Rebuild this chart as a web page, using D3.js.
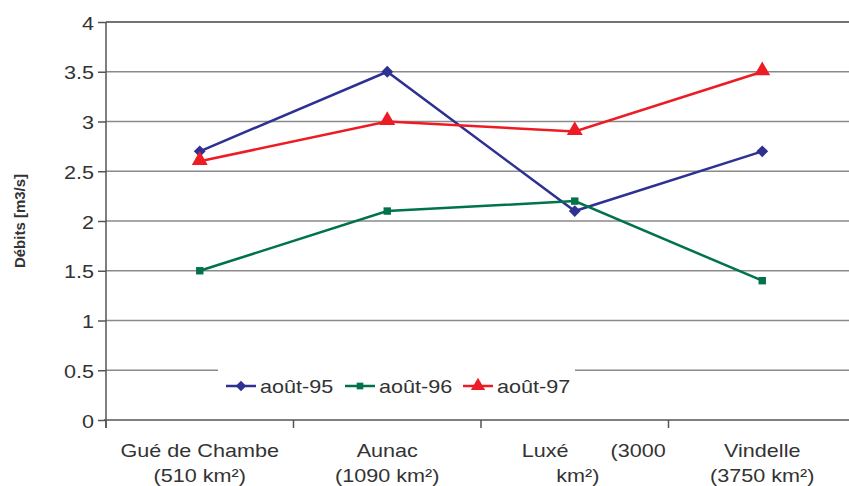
<!DOCTYPE html>
<html><head><meta charset="utf-8">
<script src="https://cdn.jsdelivr.net/npm/d3@7"></script>
<style>body{margin:0;background:#fff}text{font-family:"Liberation Sans",Arial,sans-serif;fill:#333}</style>
</head><body><svg id="c" width="849" height="486"></svg>
<script>
const categories = ["Gué de Chambe", "Aunac", "Luxé", "Vindelle"];
const categoryLines = [["Gué de Chambe", "(510 km²)"], ["Aunac", "(1090 km²)"], ["Luxé\u00a0\u00a0\u00a0\u00a0\u00a0\u00a0\u00a0(3000", "\u00a0km²)"], ["Vindelle", "(3750 km²)"]];
const seriesNames = ["août-95", "août-96", "août-97"];
const aout95 = [2.7, 3.5, 2.1, 2.7];
const aout96 = [1.5, 2.1, 2.2, 1.4];
const aout97 = [2.6, 3.0, 2.9, 3.5];
const yTicks = [0, 0.5, 1, 1.5, 2, 2.5, 3, 3.5, 4];
const yTitle = "Débits [m3/s]";

const colors = ["#2e3192", "#00734a", "#ed1c24"];
const markers = [d3.symbolSquare, d3.symbolSquare, d3.symbolTriangle];
const markerRot = [45, 0, 0];
const markerSizes = [70, 55, 110];
const series = [aout95, aout96, aout97];
const SX = 1.2;

const svg = d3.select("#c");
const pLeft = 106, pRight = 856, pTop = 22, pBottom = 420;
const x = d3.scaleBand().domain(categories).range([pLeft, pRight]);
const y = d3.scaleLinear().domain([0, 4]).range([pBottom, pTop]);

// gridlines
svg.append("g").selectAll("line").data(yTicks.filter(d => d > 0)).join("line")
  .attr("x1", pLeft).attr("x2", 849).attr("y1", d => y(d)).attr("y2", d => y(d))
  .attr("stroke", d => d === 4 ? "#444" : "#8a8a8a").attr("stroke-width", 1.5);

// legend background (covers gridline)
const legend = svg.append("g");
legend.append("rect").attr("x", 218).attr("y", 358).attr("width", 357).attr("height", 56).attr("fill", "#fff");

// y axis
const yAxis = svg.append("g").attr("transform", `translate(${pLeft},0)`)
  .call(d3.axisLeft(y).tickValues(yTicks).tickSize(8).tickPadding(6).tickFormat(d3.format("")));
yAxis.select(".domain").attr("stroke", "#555").attr("stroke-width", 1.5).attr("d", `M0,${pTop}V${pBottom + 8}`);
yAxis.selectAll(".tick line").attr("stroke", "#555").attr("stroke-width", 1.5);
yAxis.selectAll(".tick text").remove();
yAxis.selectAll(".tick").append("text")
  .attr("transform", `translate(-12,7) scale(${SX},1)`)
  .attr("text-anchor", "end").style("font-size", "18px").style("fill", "#333")
  .text(d => d3.format("")(d));

// x axis
const xAxis = svg.append("g").attr("transform", `translate(0,${pBottom})`);
xAxis.append("line").attr("x1", pLeft - 2).attr("x2", 849).attr("stroke", "#555").attr("stroke-width", 1.5);
const bounds = d3.range(categories.length + 1).map(i => pLeft + i * x.step());
xAxis.selectAll(".xt").data(bounds).join("line").attr("class", "xt")
  .attr("x1", d => d).attr("x2", d => d).attr("y1", 0).attr("y2", 8)
  .attr("stroke", "#555").attr("stroke-width", 1.5);
const xl = xAxis.selectAll(".xl").data(categories).join("g").attr("class", "xl")
  .attr("transform", (d, i) => `translate(${x(d) + x.bandwidth() / 2 + (i === 2 ? 19 : 0)},0)`);
xl.each(function(d, i) {
  const g = d3.select(this);
  categoryLines[i].forEach((t, j) => {
    g.append("text").attr("transform", `translate(${i===2 && j===1 ? -19 : 0},${37 + j * 25}) scale(${SX},1)`)
      .attr("text-anchor", "middle").style("font-size", "18px").text(t);
  });
});

// y title
svg.append("text").attr("transform", `translate(25,${(pTop + pBottom) / 2}) rotate(-90)`)
  .attr("text-anchor", "middle").style("font-size", "15px").style("font-weight", "bold").text(yTitle);

// series
const cx = c => x(c) + x.bandwidth() / 2;
series.forEach((vals, s) => {
  const data = categories.map((c, i) => [c, vals[i]]);
  svg.append("path").datum(data)
    .attr("fill", "none").attr("stroke", colors[s]).attr("stroke-width", 2.5)
    .attr("d", d3.line().x(d => cx(d[0])).y(d => y(d[1])));
  svg.append("g").selectAll("path").data(data).join("path")
    .attr("transform", d => `translate(${cx(d[0])},${y(d[1]) + (s === 2 ? -1 : 0)}) rotate(${markerRot[s]})`)
    .attr("d", d3.symbol().type(markers[s]).size(markerSizes[s]))
    .attr("fill", colors[s]);
});

// legend items
const lx = [226, 345, 463];
seriesNames.forEach((n, s) => {
  const g = legend.append("g").attr("transform", `translate(${lx[s]},386)`);
  g.append("line").attr("x1", 0).attr("x2", 30).attr("stroke", colors[s]).attr("stroke-width", 2.5);
  g.append("path").attr("transform", `translate(15,0) rotate(${markerRot[s]})`).attr("d", d3.symbol().type(markers[s]).size(markerSizes[s] * 0.8)).attr("fill", colors[s]);
  g.append("text").attr("transform", `translate(34,7) scale(${SX},1)`).style("font-size", "18px").text(n);
});
</script></body></html>
